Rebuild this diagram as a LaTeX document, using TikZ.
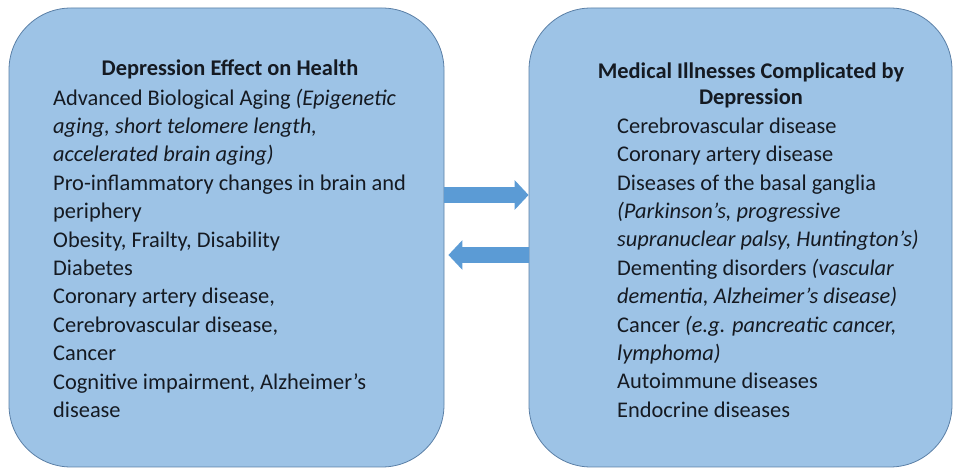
\documentclass[tikz,border=0pt]{standalone}
\usepackage{fontspec}
\setmainfont{Carlito}
\usepackage{xcolor}
\usetikzlibrary{arrows.meta}

\definecolor{boxfill}{HTML}{9DC3E6}
\definecolor{boxline}{HTML}{5A7FA6}
\definecolor{arrowfill}{HTML}{5B9BD5}
\definecolor{inktext}{HTML}{151A22}

\tikzset{
  panel/.style={draw=boxline, fill=boxfill, line width=0.8pt,
    rounded corners=62pt, inner sep=0pt},
  heading/.style={font=\bfseries\fontsize{22.4}{26}\selectfont,
    text=inktext, align=center, inner sep=0pt, anchor=north},
  entries/.style={font=\fontsize{22.4}{28.4}\selectfont,
    text=inktext, align=left, inner sep=0pt, anchor=north west},
  blockarrow/.style={line width=16pt, draw=arrowfill,
    -{Triangle[length=14pt,width=29pt]}}
}

\begin{document}
\begin{tikzpicture}[x=1pt,y=-1pt]
  \useasboundingbox (0,0) rectangle (954,470);

  % Two panels
  \node[panel, minimum width=435pt, minimum height=459pt] (effect) at (226.5,237.5) {};
  \node[panel, minimum width=423pt, minimum height=459pt] (illness) at (740.5,237.5) {};

  % Left panel text
  \node[heading] (effecttitle) at (230,59.5) {Depression Effect on Health};
  \node[entries] (effectlist) at (53,88.5) {%
    Advanced Biological Aging \textit{(Epigenetic}\\
    \textit{aging, short telomere length,}\\
    \textit{accelerated brain aging)}\\
    Pro-inflammatory changes in brain and\\
    periphery\\
    Obesity, Frailty, Disability\\
    Diabetes\\
    Coronary artery disease,\\
    Cerebrovascular disease,\\
    Cancer\\
    Cognitive impairment, Alzheimer’s\\
    disease};

  % Right panel text
  \node[heading] (illnesstitle) at (751,62.5) {Medical Illnesses Complicated by\\Depression};
  \node[entries] (illnesslist) at (617,117.5) {%
    Cerebrovascular disease\\
    Coronary artery disease\\
    Diseases of the basal ganglia\\
    \textit{(Parkinson’s, progressive}\\
    \textit{supranuclear palsy, Huntington’s)}\\
    Dementing disorders \textit{(vascular}\\
    \textit{dementia, Alzheimer’s disease)}\\
    Cancer \textit{(e.g. pancreatic cancer,}\\
    \textit{lymphoma)}\\
    Autoimmune diseases\\
    Endocrine diseases};

  % Arrows both ways
  \draw[blockarrow] (effect.east |- 0,195) -- (illness.west |- 0,195);
  \draw[blockarrow, shorten >=4pt] (illness.west |- 0,255) -- (effect.east |- 0,255);
\end{tikzpicture}
\end{document}
